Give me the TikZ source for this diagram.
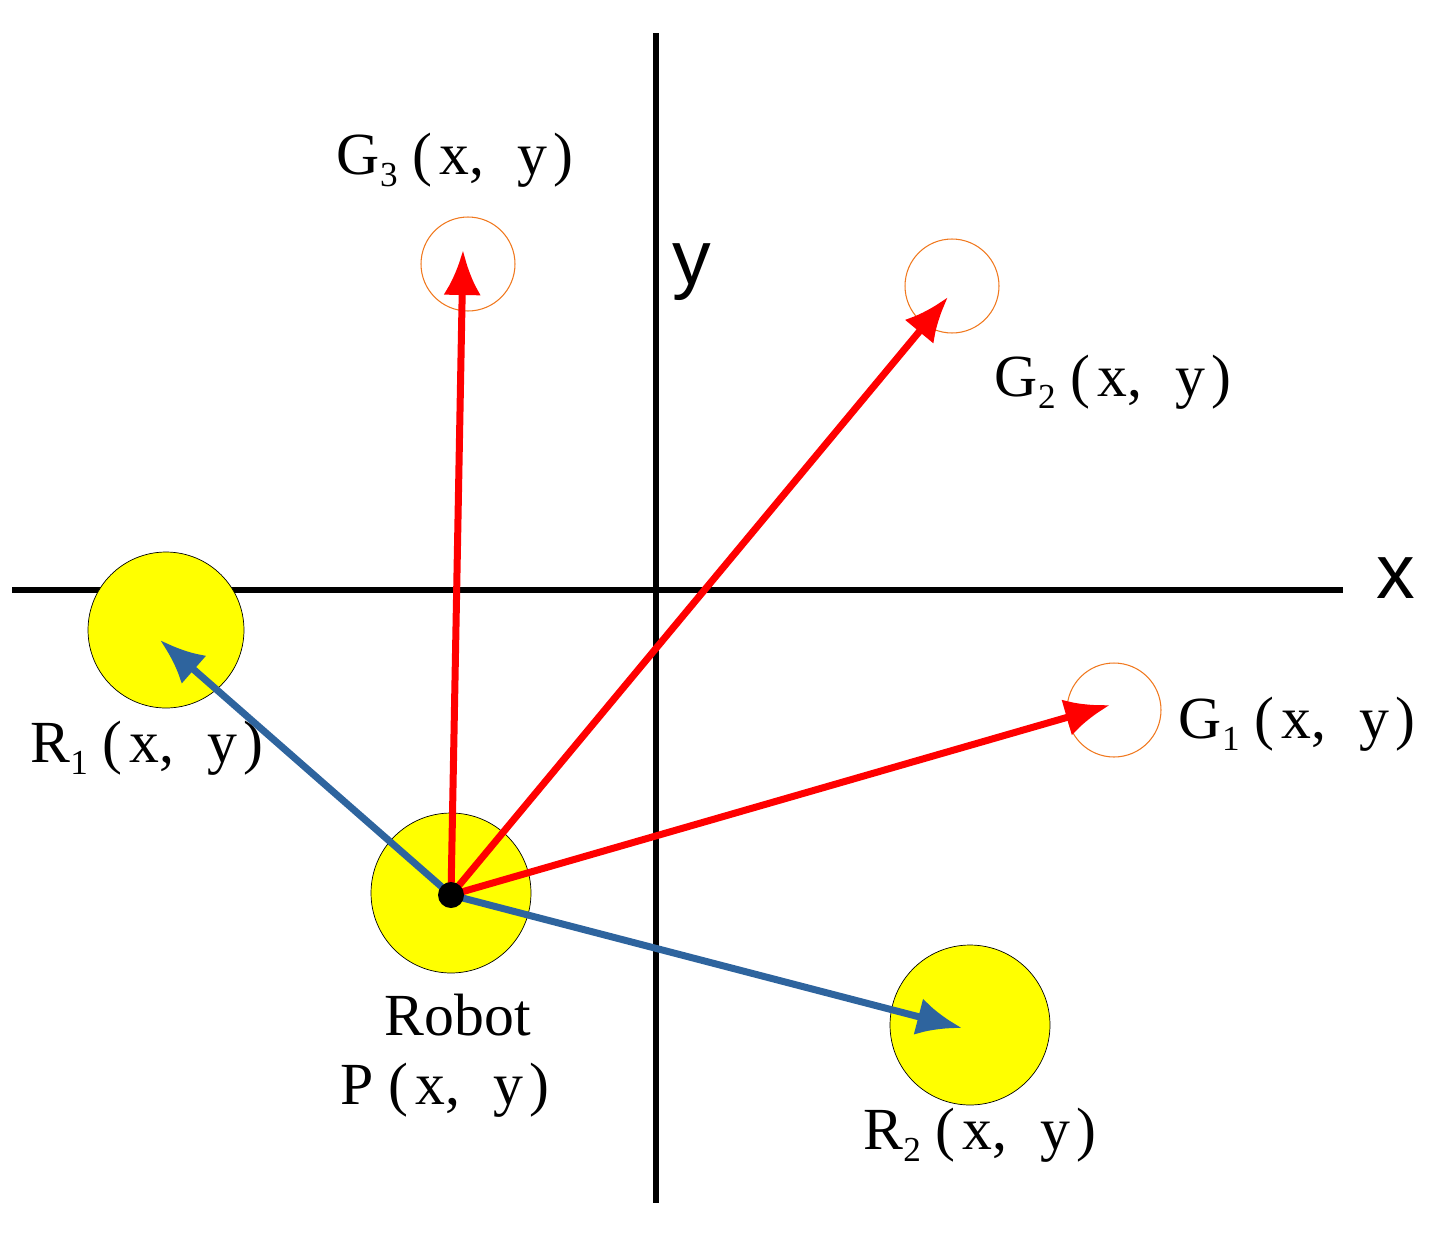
\documentclass[tikz,border=0pt]{standalone}
\usepackage{fontspec}
\setmainfont{Liberation Serif}
\newfontfamily\sansf{Liberation Sans}
\usetikzlibrary{arrows.meta}
\definecolor{ylw}{RGB}{255,255,0}
\definecolor{blu}{RGB}{46,100,158}
\definecolor{org}{RGB}{240,120,30}
\newcommand{\sbs}[1]{\raisebox{-0.45ex}{\fontsize{20}{22}\selectfont #1}}
\newcommand{\xy}{\hspace{0.25em}(\hspace{0.12em}x,\hspace{0.55em}y\hspace{0.1em})}
\begin{document}
\begin{tikzpicture}[x=0.02cm,y=-0.02cm,
  axis/.style={line width=0.11cm},
  body/.style={circle,draw=black,line width=0.4pt,fill=ylw,inner sep=0pt},
  goal/.style={circle,draw=org,line width=0.6pt,inner sep=0pt,minimum size=1.88cm},
  vec/.style={line width=0.14cm,-{Latex[length=0.9cm,width=0.75cm]}},
  lbl/.style={font=\fontsize{34}{38}\selectfont},
  axl/.style={font=\sansf\fontsize{44}{50}\selectfont}]
\useasboundingbox (0,0) rectangle (1444,1241);
\coordinate (xl) at (12,590); \coordinate (xr) at (1343,590);
\coordinate (yt) at (656,33); \coordinate (yb) at (656,1203);
\draw[axis] (xl) -- (xr);
\draw[axis] (yt) -- (yb);
\node[axl] (xlab) at (1396,578) {x};
\node[axl] (ylab) at (692,272) {y};
\node[body,minimum size=3.2cm] (rob) at (451,893) {};
\node[body,minimum size=3.12cm] (r1) at (166,630) {};
\node[body,minimum size=3.2cm] (r2) at (970,1025) {};
\node[goal] (g3) at (468,264) {};
\node[goal] (g2) at (952,286) {};
\node[goal] (g1) at (1114,710) {};
\coordinate (p) at (451,895);
\coordinate (t3) at (463,250); \coordinate (t2) at (948,297);
\coordinate (t1) at (1110,705); \coordinate (tr1) at (160,640);
\coordinate (tr2) at (962,1028);
\draw[vec,blu] (p) -- (tr1);
\draw[vec,blu] (p) -- (tr2);
\draw[vec,red] (p) -- (t3);
\draw[vec,red] (p) -- (t2);
\draw[vec,red] (p) -- (t1);
\fill (p) circle[radius=13];
\node[lbl] (lg3) at (455,160) {G\sbs{3}\xy};
\node[lbl] (lg2) at (1113,382) {G\sbs{2}\xy};
\node[lbl] (lg1) at (1297,724) {G\sbs{1}\xy};
\node[lbl] (lr1) at (147,748) {R\sbs{1}\xy};
\node[lbl] (lr2) at (980,1135) {R\sbs{2}\xy};
\node[lbl] (lrob) at (458,1015) {Robot};
\node[lbl] (lp) at (445,1090) {P\xy};
\end{tikzpicture}
\end{document}
